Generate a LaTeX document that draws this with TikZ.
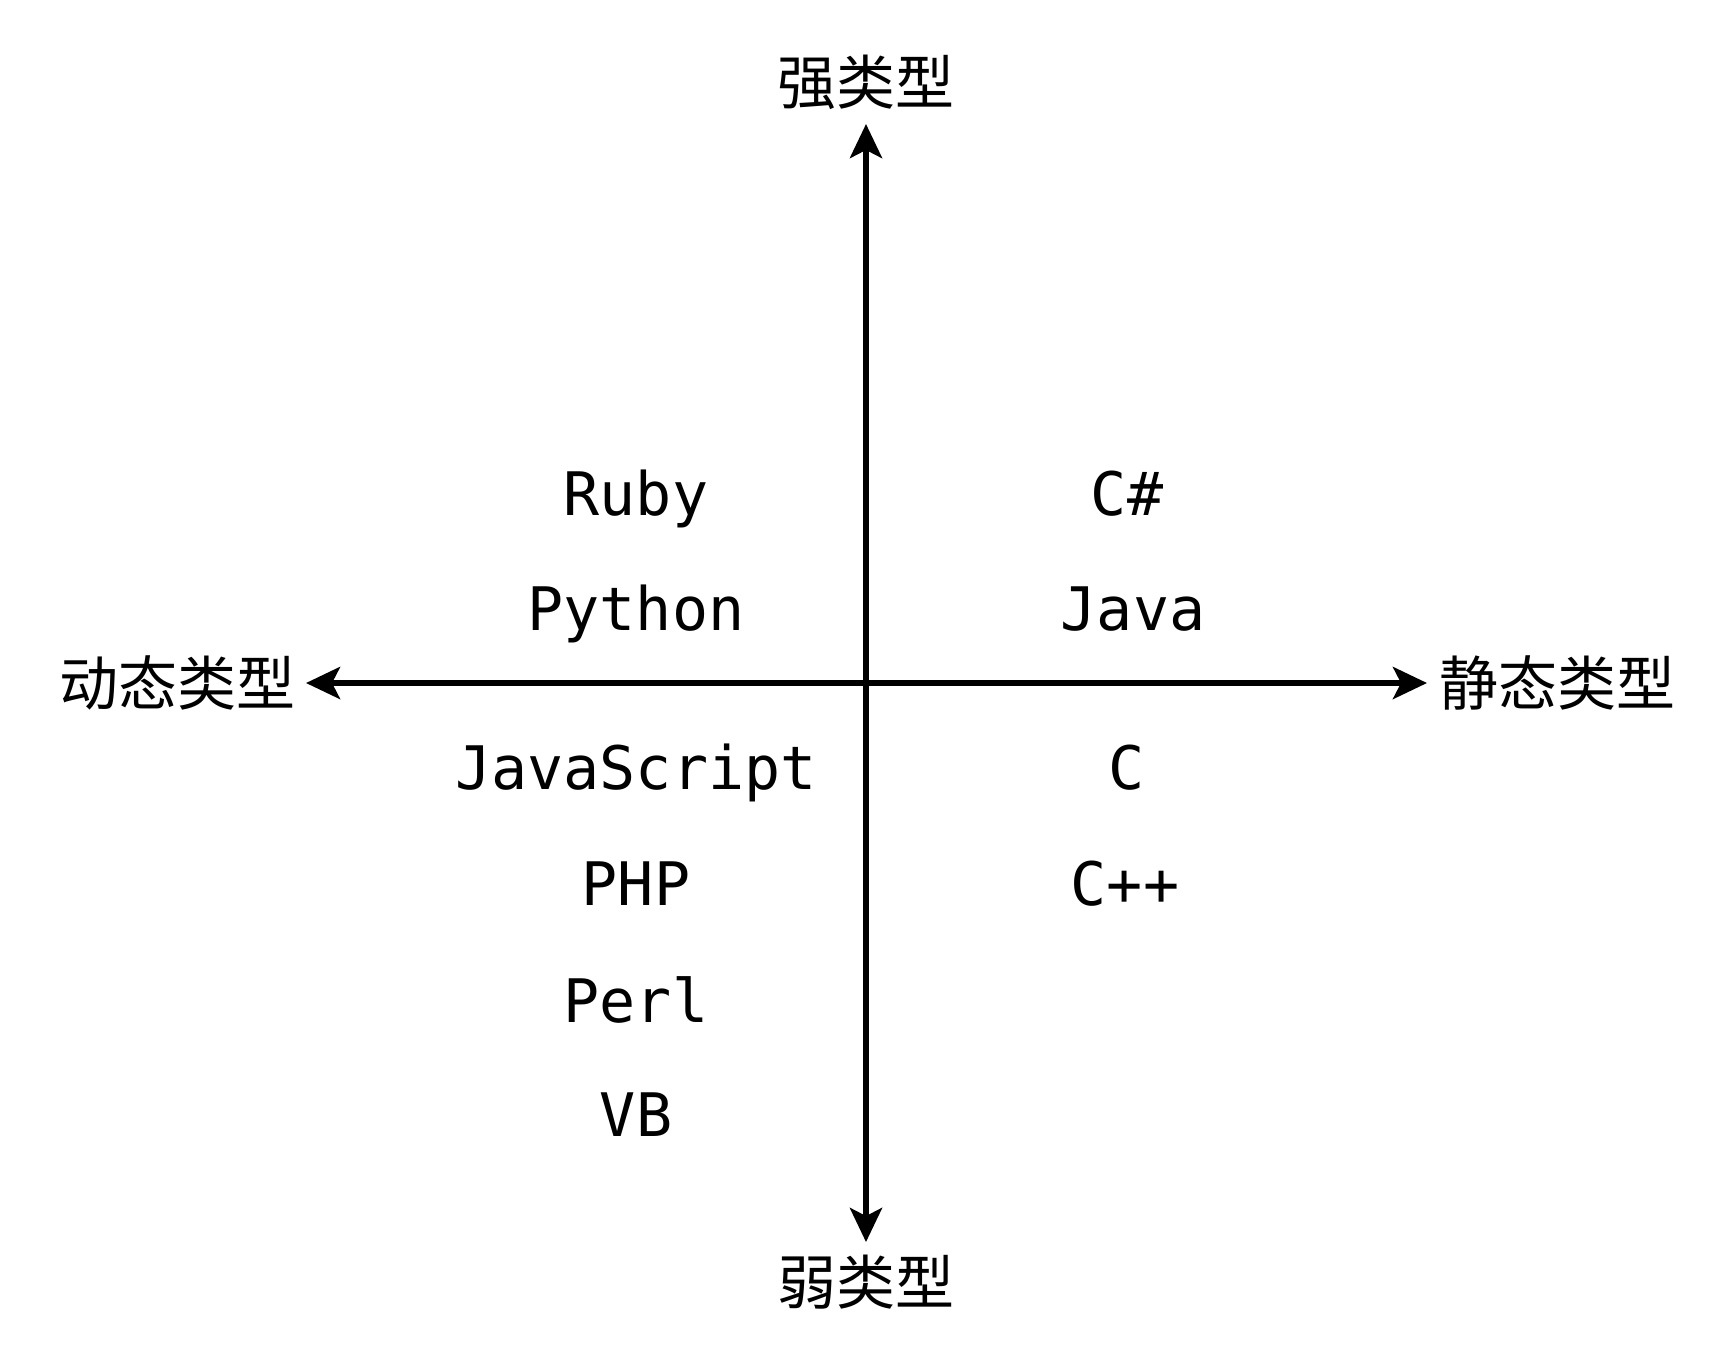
\documentclass[tikz,border=0pt]{standalone}
\usepackage{fontspec}
\setmonofont{DejaVu Sans Mono}
\newfontfamily\cjk{Noto Sans CJK SC}
\usetikzlibrary{arrows.meta}
\begin{document}
\begin{tikzpicture}[x=0.5pt,y=-0.5pt,
  lang/.style={anchor=base,inner sep=0pt,font=\fontsize{30pt}{36pt}\selectfont\ttfamily},
  axlabel/.style={anchor=base,inner sep=0pt,font=\fontsize{29.5pt}{36pt}\selectfont\cjk},
  axis/.style={line width=2.9pt,{Stealth[length=17pt,width=16pt,inset=4pt]}-{Stealth[length=17pt,width=16pt,inset=4pt]}}]
\useasboundingbox (0,0) rectangle (1730,1362);
% axis ends
\coordinate (top) at (866,124);
\coordinate (bottom) at (866,1242);
\coordinate (left) at (306,683);
\coordinate (right) at (1427,683);
\draw[axis] (top) -- (bottom);
\draw[axis] (left) -- (right);
% axis labels
\node[axlabel] (strong) at (866,104) {强类型};
\node[axlabel] (weak) at (866,1304) {弱类型};
\node[axlabel] (dyn) at (177,705) {动态类型};
\node[axlabel] (stat) at (1557,705) {静态类型};
% languages
\node[lang] (ruby) at (636,515) {Ruby};
\node[lang] (python) at (636,630) {Python};
\node[lang] (js) at (636,789) {JavaScript};
\node[lang] (php) at (636,905) {PHP};
\node[lang] (perl) at (636,1022) {Perl};
\node[lang] (vb) at (636,1136) {VB};
\node[lang] (cs) at (1127,515) {C\#};
\node[lang] (java) at (1133,630) {Java};
\node[lang] (c) at (1127,789) {C};
\node[lang] (cpp) at (1125,905) {C++};
\end{tikzpicture}
\end{document}
